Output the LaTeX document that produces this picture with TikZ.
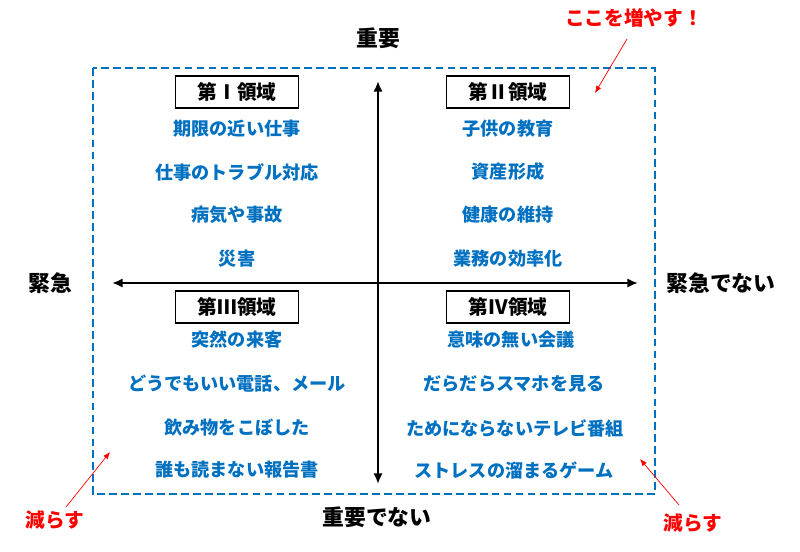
\documentclass[tikz,border=0pt]{standalone}
\usepackage{fontspec}
\setmainfont{Noto Sans CJK JP}
\usetikzlibrary{positioning}
\usetikzlibrary{arrows.meta}
\definecolor{itemblue}{RGB}{0,112,192}
\definecolor{notered}{RGB}{255,0,0}
\definecolor{pinkline}{RGB}{255,110,110}

\begin{document}
\begin{tikzpicture}[
    x=0.025cm, y=-0.025cm,
    >=latex,
    % node styles
    quadbox/.style = {
      draw=black,
      line width=0.8pt,
      minimum width=3.075cm,
      minimum height=0.8cm,
      inner sep=0pt,
      font=\fontsize{14}{16}\selectfont\bfseries
    },
    item/.style = {
      text=itemblue,
      inner sep=1pt,
      font=\fontsize{12.9}{15}\selectfont\bfseries
    },
    axislbl/.style = {
      inner sep=1pt,
      font=\fontsize{15.5}{18}\selectfont\bfseries
    },
    note/.style = {
      text=notered,
      inner sep=1pt,
      font=\fontsize{14}{16}\selectfont\bfseries
    },
    % line styles
    frame/.style = {draw=itemblue, line width=1.1pt, dash pattern=on 5.5pt off 3pt},
    axis/.style = {<->, line width=2pt, draw=black,
      >={Latex[length=7.5pt,width=6.5pt]}},
    notearr/.style = {-{Latex[length=5pt,width=4pt]}, line width=0.5pt,
      draw=pinkline, color=notered}
  ]
  \useasboundingbox (0,0) rectangle (800,551);

  % --- Frame
  \draw[frame] (93,68) rectangle (655,494);

  % --- Axes
  \coordinate (up) at (378,81);
  \coordinate (down) at (378,484);
  \coordinate (left) at (112,283);
  \coordinate (right) at (638,283);
  \draw[axis] (down) -- (up);
  \draw[axis] (left) -- (right);

  \node[axislbl] (imp) at (378,38) {重要};
  \node[axislbl] (notimp) at (377,517) {重要でない};
  \node[axislbl] (urg) at (50,283) {緊急};
  \node[axislbl] (noturg) at (721,283) {緊急でない};

  % --- Quadrant boxes
  \node[quadbox] (q1) at (237,92) {第Ⅰ領域};
  \node[quadbox] (q2) at (508,92) {第Ⅱ領域};
  \node[quadbox] (q3) at (237,307) {第Ⅲ領域};
  \node[quadbox] (q4) at (508,307) {第Ⅳ領域};

  % --- Items
  \node[item] (q1a) at (237,129) {期限の近い仕事};
  \node[item] (q1b) at (237,172) {仕事のトラブル対応};
  \node[item] (q1c) at (237,215) {病気や事故};
  \node[item] (q1d) at (237,259) {災害};

  \node[item] (q2a) at (508,129) {子供の教育};
  \node[item] (q2b) at (508,172) {資産形成};
  \node[item] (q2c) at (508,215) {健康の維持};
  \node[item] (q2d) at (508,259) {業務の効率化};

  \node[item] (q3a) at (237,340) {突然の来客};
  \node[item] (q3b) at (237,384) {どうでもいい電話、メール};
  \node[item] (q3c) at (237,428) {飲み物をこぼした};
  \node[item] (q3d) at (237,470) {誰も読まない報告書};

  \node[item] (q4a) at (511,340) {意味の無い会議};
  \node[item] (q4b) at (514,384) {だらだらスマホを見る};
  \node[item] (q4c) at (515,428) {ためにならないテレビ番組};
  \node[item] (q4d) at (514,470) {ストレスの溜まるゲーム};

  % --- Notes
  \node[note] (more) at (634,18) {ここを増やす！};
  \node[note] (lessl) at (55,520) {減らす};
  \node[note] (lessr) at (693,523) {減らす};

  \coordinate (moreS) at (627,39);
  \coordinate (moreT) at (595,93);
  \coordinate (lesslS) at (66,507);
  \coordinate (lesslT) at (110,452);
  \coordinate (lessrS) at (679,505);
  \coordinate (lessrT) at (640,459);
  \draw[notearr] (moreS) -- (moreT);
  \draw[notearr] (lesslS) -- (lesslT);
  \draw[notearr] (lessrS) -- (lessrT);

\end{tikzpicture}
\end{document}
